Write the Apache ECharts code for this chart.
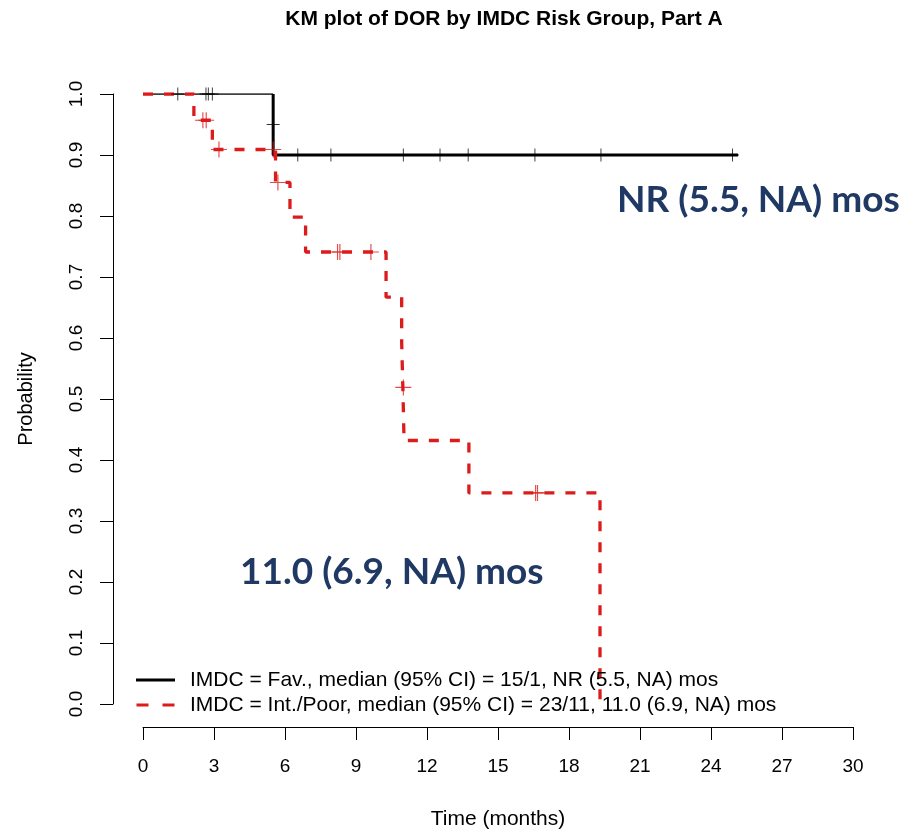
<!DOCTYPE html>
<html>
<head>
<meta charset="utf-8">
<script src="https://cdn.jsdelivr.net/npm/echarts@6/dist/echarts.min.js"></script>
<style>
  html, body { margin: 0; padding: 0; background: #fff; }
  #chart { width: 914px; height: 829px; }
</style>
</head>
<body>
<div id="chart"></div>
<script>
// Kaplan-Meier step data: time (months) and survival probability after each step
const favTime = [0, 5.5, 25.14];
const favSurv = [1.0, 0.9, 0.9];
const favCensorTime = [1.47, 2.66, 2.76, 2.93, 5.5, 6.54, 7.94, 11.0, 12.55, 13.74, 16.56, 19.35, 24.91];
const favCensorSurv = [1.0, 1.0, 1.0, 1.0, 0.95, 0.9, 0.9, 0.9, 0.9, 0.9, 0.9, 0.9, 0.9];

const poorTime = [0, 2.15, 2.93, 5.6, 6.21, 6.87, 10.27, 10.93, 10.98, 11.03, 13.77, 19.31];
const poorSurv = [1.0, 0.957, 0.909, 0.855, 0.798, 0.741, 0.667, 0.593, 0.519, 0.432, 0.346, 0.0];
const poorCensorTime = [2.53, 2.67, 3.21, 5.5, 5.7, 8.22, 8.32, 9.63, 11.0, 16.59, 16.67];
const poorCensorSurv = [0.957, 0.957, 0.909, 0.909, 0.855, 0.741, 0.741, 0.741, 0.519, 0.346, 0.346];

const legendNames = [
  'IMDC = Fav., median (95% CI) = 15/1, NR (5.5, NA) mos',
  'IMDC = Int./Poor, median (95% CI) = 23/11, 11.0 (6.9, NA) mos'
];
const titleText = 'KM plot of DOR by IMDC Risk Group, Part A';
const noteFav = 'NR (5.5, NA) mos';
const notePoor = '11.0 (6.9, NA) mos';

const xMin = 0, xMax = 30, xStep = 3;
const yMin = 0, yMax = 1, yStep = 0.1;

const zip = (a, b) => a.map((v, i) => [v, b[i]]);

// first flat run of the favourable curve is drawn thin, the rest thick
const favHead = [[favTime[0], favSurv[0]], [favTime[1], favSurv[0]]];
const favTail = [[favTime[1], favSurv[0]]].concat(zip(favTime, favSurv).slice(1));

const plus = 'path://M6.5,0H7.5V6.5H14V7.5H7.5V14H6.5V7.5H0V6.5H6.5Z';
const RED = '#dc1b1b';
const FONT = 'Liberation Sans';

const chart = echarts.init(document.getElementById('chart'), null, { renderer: 'canvas' });
chart.setOption({
  animation: false,
  backgroundColor: '#ffffff',
  title: {
    text: titleText,
    left: 499, top: 4, textAlign: 'center',
    textStyle: { fontFamily: FONT, fontSize: 21, fontWeight: 'bold', color: '#000' }
  },
  grid: { left: 143, right: 61, top: 94, bottom: 125, containLabel: false, outerBoundsMode: 'none' },
  xAxis: {
    type: 'value', min: xMin, max: xMax, interval: xStep,
    offset: 23,
    name: 'Time (months)', nameLocation: 'middle', nameGap: 82,
    nameTextStyle: { fontFamily: FONT, fontSize: 21, color: '#000' },
    axisLine: { show: true, onZero: false, lineStyle: { color: '#000', width: 1 } },
    axisTick: { show: true, length: 13, lineStyle: { color: '#000', width: 1 } },
    axisLabel: { margin: 30, fontFamily: FONT, fontSize: 19, color: '#000' },
    splitLine: { show: false }
  },
  yAxis: {
    type: 'value', min: yMin, max: yMax, interval: yStep,
    offset: 30,
    name: 'Probability', nameLocation: 'middle', nameGap: 77, nameRotate: 90,
    nameTextStyle: { fontFamily: FONT, fontSize: 20, color: '#000' },
    axisLine: { show: true, onZero: false, lineStyle: { color: '#000', width: 1 } },
    axisTick: { show: true, length: 13, lineStyle: { color: '#000', width: 1 } },
    axisLabel: {
      margin: 27, rotate: 90, fontFamily: FONT, fontSize: 19, color: '#000',
      formatter: v => v.toFixed(1)
    },
    splitLine: { show: false }
  },
  legend: {
    data: [
      { name: legendNames[0], icon: 'path://M0,0H40V3H0Z', itemStyle: { color: '#000' } },
      { name: legendNames[1], icon: 'path://M0,0H12V3H0ZM26,0H38V3H26Z', itemStyle: { color: RED } }
    ],
    orient: 'vertical', left: 131, top: 663,
    itemWidth: 39, itemHeight: 3, itemGap: 1,
    textStyle: { fontFamily: FONT, fontSize: 21, lineHeight: 24, color: '#000', padding: [0, 0, 0, 10] },
    selectedMode: false
  },
  graphic: [
    {
      type: 'text', x: 617, y: 200,
      style: { text: noteFav, fontFamily: 'Lato', fontWeight: 'bold', fontSize: 37, fill: '#1f3864', verticalAlign: 'middle' }
    },
    {
      type: 'text', x: 240, y: 572,
      style: { text: notePoor, fontFamily: 'Lato', fontWeight: 'bold', fontSize: 37, fill: '#1f3864', verticalAlign: 'middle' }
    }
  ],
  series: [
    {
      name: 'favHead', type: 'line', step: 'end', data: favHead,
      symbol: 'none', lineStyle: { color: '#000', width: 1.3 }, z: 2
    },
    {
      name: legendNames[0], type: 'line', step: 'end', data: favTail,
      symbol: 'none', color: '#000', lineStyle: { color: '#000', width: 3 }, z: 2
    },
    {
      name: legendNames[1], type: 'line', step: 'end', data: zip(poorTime, poorSurv),
      symbol: 'none', color: RED, lineStyle: { color: RED, width: 3.3, type: [10, 11] }, z: 3
    },
    {
      name: 'favCensor', type: 'scatter', data: zip(favCensorTime, favCensorSurv),
      symbol: plus, symbolSize: 13, itemStyle: { color: '#000' }, z: 4
    },
    {
      name: 'poorCensor', type: 'scatter', data: zip(poorCensorTime, poorCensorSurv),
      symbol: plus, symbolSize: 16, itemStyle: { color: RED }, z: 5
    }
  ]
});
</script>
</body>
</html>
